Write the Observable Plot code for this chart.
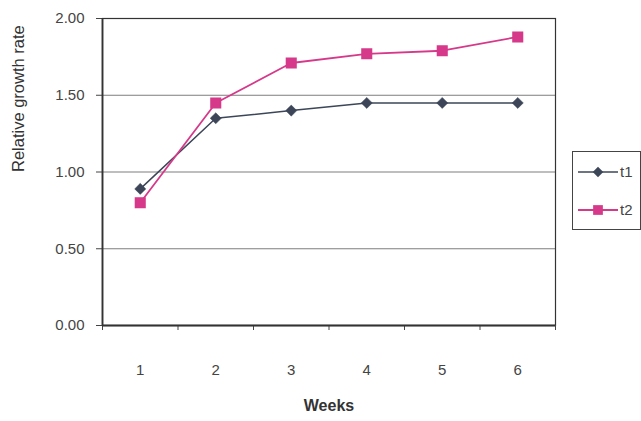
<!DOCTYPE html>
<html>
<head>
<meta charset="utf-8">
<script src="https://cdn.jsdelivr.net/npm/d3@7"></script>
<script src="https://cdn.jsdelivr.net/npm/@observablehq/plot@0.6"></script>
<style>
  html, body { margin: 0; padding: 0; background: #fff; }
  #wrap { position: relative; width: 641px; height: 421px; font-family: "Liberation Sans", Arial, sans-serif; }
  #legend { position: absolute; left: 572px; top: 151px; width: 69px; height: 79px; border: 1px solid #444; box-sizing: border-box; background: #fff; }
</style>
</head>
<body>
<div id="wrap"><div id="legend"></div></div>
<script>
const weeks = [1, 2, 3, 4, 5, 6];
const t1 = [0.89, 1.35, 1.40, 1.45, 1.45, 1.45];
const t2 = [0.80, 1.45, 1.71, 1.77, 1.79, 1.88];
const yTicks = [0, 0.5, 1.0, 1.5, 2.0];
const bandEdges = [0.5, 1.5, 2.5, 3.5, 4.5, 5.5, 6.5];
const seriesNames = ["t1", "t2"];
const colors = {t1: "#3c4658", t2: "#d6398a"};

const rows = [];
weeks.forEach((w, i) => {
  rows.push({week: w, value: t1[i], series: "t1"});
  rows.push({week: w, value: t2[i], series: "t2"});
});

const font = "Liberation Sans, Arial, sans-serif";

const chart = Plot.plot({
  width: 641,
  height: 421,
  marginLeft: 102,
  marginRight: 86,
  marginTop: 18,
  marginBottom: 96,
  style: {fontFamily: font, fontSize: "15px", color: "#444", background: "transparent"},
  x: {type: "linear", domain: [0.5, 6.5]},
  y: {domain: [0, 2]},
  marks: [
    Plot.gridY(yTicks, {stroke: "#6f6f6f", strokeOpacity: 0.9, strokeWidth: 1}),
    Plot.frame({stroke: "#333", strokeWidth: 1.2}),
    Plot.axisY(yTicks, {tickFormat: d3.format(".2f"), tickSize: 6, tickPadding: 12, label: null, stroke: "#444", fill: "#444", fontSize: 15}),
    Plot.axisX(bandEdges, {tickFormat: () => "", tickSize: 5, tickPadding: 0, label: null, stroke: "#444"}),
    Plot.axisX(weeks, {tickSize: 0, tickPadding: 39, label: null, fill: "#444", fontSize: 15}),
    Plot.ruleY([0], {stroke: "#333", strokeWidth: 1.8}),
    Plot.ruleX([0.5], {stroke: "#333", strokeWidth: 1.8}),
    Plot.line(rows.filter(d => d.series === "t1"), {x: "week", y: "value", stroke: colors.t1, strokeWidth: 1.5}),
    Plot.line(rows.filter(d => d.series === "t2"), {x: "week", y: "value", stroke: colors.t2, strokeWidth: 1.8}),
    Plot.dot(rows.filter(d => d.series === "t1"), {x: "week", y: "value", symbol: "diamond2", r: 5, fill: colors.t1, stroke: colors.t1, strokeWidth: 0.5}),
    Plot.dot(rows.filter(d => d.series === "t2"), {x: "week", y: "value", symbol: "square", r: 5.4, fill: colors.t2, stroke: colors.t2}),
    Plot.text(["Weeks"], {frameAnchor: "bottom", dy: 85, text: d => d, fontWeight: "bold", fontSize: 16, fill: "#333"}),
    Plot.text(["Relative growth rate"], {frameAnchor: "left", dx: -84, rotate: -90, text: d => d, fontSize: 16.5, fill: "#333"})
  ]
});
document.getElementById("wrap").prepend(chart);

// legend
const lg = d3.select("#legend").append("svg").attr("width", 67).attr("height", 77);
const sym = {t1: d3.symbol(d3.symbolDiamond2, 70), t2: d3.symbol(d3.symbolSquare, 95)};
seriesNames.forEach((s, i) => {
  const y = i === 0 ? 20 : 58;
  lg.append("line").attr("x1", 5).attr("x2", 45).attr("y1", y).attr("y2", y)
    .attr("stroke", colors[s]).attr("stroke-width", s === "t1" ? 1.5 : 1.8);
  lg.append("path").attr("d", sym[s]()).attr("transform", `translate(25,${y})`).attr("fill", colors[s]);
  lg.append("text").attr("x", 47).attr("y", y).attr("dy", "0.35em")
    .attr("font-size", 15).attr("fill", "#444").attr("font-family", font).text(s);
});
</script>
</body>
</html>
